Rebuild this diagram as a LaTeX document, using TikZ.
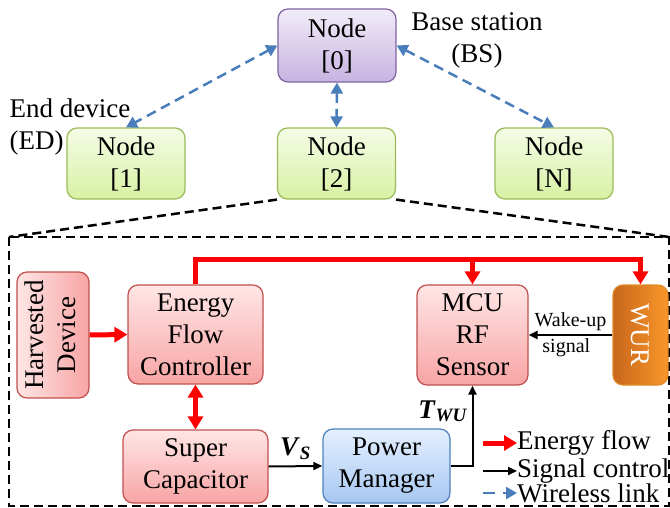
\documentclass[tikz,border=0pt]{standalone}
\usepackage{fontspec}
\setmainfont{Liberation Serif}
\usepackage{graphicx}
\usetikzlibrary{arrows.meta,positioning,calc}
\definecolor{bsTop}{HTML}{F1ECF8}
\definecolor{bsBot}{HTML}{C8B3E1}
\definecolor{bsLine}{HTML}{8064A2}
\definecolor{edTop}{HTML}{F5FCE6}
\definecolor{edBot}{HTML}{D8F1A4}
\definecolor{edLine}{HTML}{9BBB59}
\definecolor{rdTop}{HTML}{FFE6E6}
\definecolor{rdBot}{HTML}{F8A4A4}
\definecolor{rdLine}{HTML}{C0504D}
\definecolor{pmTop}{HTML}{E4F0FF}
\definecolor{pmBot}{HTML}{A7C7F1}
\definecolor{pmLine}{HTML}{4F81BD}
\definecolor{wuLeft}{HTML}{C8661C}
\definecolor{wuRight}{HTML}{F9972A}
\definecolor{wlBlue}{HTML}{4A7EBB}
\tikzset{
  wtip/.tip={Triangle[length=11pt,width=12pt]},
  etip/.tip={Triangle[length=13pt,width=15pt]},
  stip/.tip={Triangle[length=9pt,width=8pt]}
}

\begin{document}
\begin{tikzpicture}[x=1pt, y=-1pt,
  every node/.style={font=\fontsize{27}{32}\selectfont},
  box/.style={draw, rounded corners=10pt, align=center, line width=1.2pt, inner sep=2pt},
  bsnode/.style={box, top color=bsTop, bottom color=bsBot, draw=bsLine,
    minimum width=118pt, minimum height=73pt},
  ednode/.style={box, top color=edTop, bottom color=edBot, draw=edLine,
    minimum width=118pt, minimum height=71pt},
  redbox/.style={box, top color=rdTop, bottom color=rdBot, draw=rdLine},
  pmbox/.style={box, top color=pmTop, bottom color=pmBot, draw=pmLine},
  wurbox/.style={box, left color=wuLeft, right color=wuRight, draw=wuRight!90!black,
    text=white},
  small/.style={font=\fontsize{20}{24}\selectfont},
  wlink/.style={dash pattern=on 10pt off 6pt, line width=2.5pt, color=wlBlue},
  energy/.style={line width=5pt, red},
  signal/.style={-stip, line width=2pt},
  zoomline/.style={dash pattern=on 9pt off 5pt, line width=2.5pt}
]
\useasboundingbox (0,0) rectangle (670,508);

\node[bsnode] (n0) at (337, 45.5) {Node\\{[0]}};
\node[ednode] (n1) at (126, 163.5) {Node\\{[1]}};
\node[ednode] (n2) at (336.5, 163.5) {Node\\{[2]}};
\node[ednode] (nN) at (554, 163.5) {Node\\{[N]}};
\node[align=center, inner sep=0pt] (bs) at (477, 40) {Base station\\(BS)};
\node[align=left, inner sep=0pt] (ed) at (70, 127) {End device\\(ED)};

\draw[wlink, wtip-wtip] (n0.west) -- (n1.north);
\draw[wlink, wtip-wtip] (n0.east) -- (nN.north);
\draw[wlink, wtip-wtip] (n0.south) -- (n2.north);

\coordinate (boxnw) at (9, 237);
\coordinate (boxne) at (669, 237);
\coordinate (boxse) at (669, 506);
\draw[zoomline] (n2.south west) -- (boxnw);
\draw[zoomline] (n2.south east) -- (boxne);
\draw[zoomline] (boxnw) rectangle (boxse);

\node[redbox, left color=rdTop, right color=rdBot, minimum width=72pt, minimum height=126pt]
  (hd) at (53, 335) {\rotatebox{90}{\begin{tabular}{@{}c@{}}Harvested\\Device\end{tabular}}};
\node[redbox, minimum width=135pt, minimum height=99pt] (efc) at (195.5, 334.5)
  {Energy\\Flow\\Controller};
\node[redbox, minimum width=145pt, minimum height=73pt] (sc) at (195.5, 466.5)
  {Super\\Capacitor};
\node[pmbox, minimum width=127pt, minimum height=74pt] (pm) at (386.5, 466)
  {Power\\Manager};
\node[redbox, minimum width=111pt, minimum height=100pt] (mcu) at (472.5, 335)
  {MCU\\RF\\Sensor};
\node[wurbox, minimum width=55pt, minimum height=100pt] (wur) at (640.5, 335)
  {\rotatebox{-90}{WUR}};

\coordinate (bus) at (0, 259);
\draw[energy, -etip] (efc.north) |- (bus -| wur.north) -- (wur.north);
\draw[energy, -etip] (bus -| mcu.north) -- (mcu.north);
\draw[energy, -etip] (hd.east) -- (efc.west);
\draw[energy, etip-etip] (efc.south) -- (sc.north);

\draw[signal] (sc.east) -- node[above, inner sep=6pt]
  {\textbf{\textit{V}}\textsubscript{\textbf{\textit{S}}}} (pm.west);
\draw[signal] (pm.east) -| node[pos=0.84, left, inner sep=4pt]
  {\textbf{\textit{T}}\textsubscript{\textbf{\textit{WU}}}} (mcu.south);
\draw[signal] (wur.west) -- node[small, above, inner sep=3pt] {Wake-up}
  node[small, pos=0.55, below, inner sep=3pt] {signal} (mcu.east);

\coordinate (lg1) at (483, 443);
\coordinate (lg2) at (483, 471);
\coordinate (lg3) at (483, 493);
\node[right, inner sep=0pt] (lgt1) at (517, 443) {Energy flow};
\node[right, inner sep=0pt] (lgt2) at (517, 471) {Signal control};
\node[right, inner sep=0pt] (lgt3) at (517, 493) {Wireless link};
\draw[energy, -etip] (lg1) -- (lgt1.west);
\draw[signal] (lg2) -- (lgt2.west);
\draw[wlink, dash pattern=on 12pt off 8pt, -wtip] (lg3) -- (lgt3.west);
\end{tikzpicture}
\end{document}
